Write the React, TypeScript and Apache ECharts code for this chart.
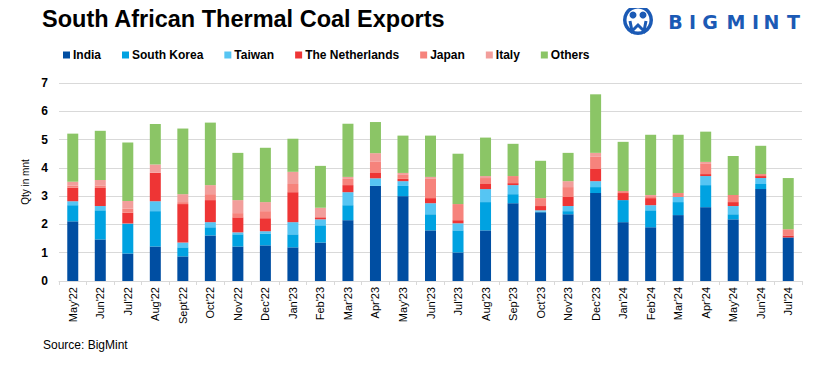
import React, { useEffect, useRef } from "react";
import * as echarts from "echarts";

const categories = [
  "May'22", "Jun'22", "Jul'22", "Aug'22", "Sept'22", "Oct'22", "Nov'22", "Dec'22",
  "Jan'23", "Feb'23", "Mar'23", "Apr'23", "May'23", "Jun'23", "Jul'23", "Aug'23",
  "Sep'23", "Oct'23", "Nov'23", "Dec'23", "Jan'24", "Feb'24", "Mar'24", "Apr'24",
  "May'24", "Jun'24", "Jul'24",
];

const india = [2.11, 1.47, 0.97, 1.22, 0.87, 1.61, 1.22, 1.26, 1.19, 1.36, 2.15, 3.36, 3.0, 1.79, 1.01, 1.79, 2.75, 2.43, 2.36, 3.11, 2.08, 1.9, 2.33, 2.61, 2.18, 3.25, 1.54];
const southKorea = [0.57, 1.03, 1.05, 1.25, 0.32, 0.29, 0.43, 0.42, 0.46, 0.61, 0.53, 0.02, 0.36, 0.57, 0.78, 1.0, 0.32, 0.02, 0.11, 0.21, 0.78, 0.6, 0.46, 0.78, 0.18, 0.18, 0];
const taiwan = [0.14, 0.15, 0.01, 0.35, 0.17, 0.18, 0.07, 0.08, 0.43, 0.21, 0.46, 0.25, 0.17, 0.39, 0.25, 0.46, 0.32, 0.05, 0.18, 0.21, 0, 0.18, 0.18, 0.32, 0.29, 0.21, 0];
const netherlands = [0.48, 0.64, 0.38, 1.0, 1.36, 0.78, 0.53, 0.46, 1.06, 0.07, 0.25, 0.21, 0.08, 0.18, 0.11, 0.18, 0.07, 0.15, 0.32, 0.43, 0.25, 0.25, 0, 0.07, 0.14, 0.07, 0.07];
const japan = [0.07, 0.09, 0.14, 0.02, 0.07, 0.21, 0.15, 0.25, 0.29, 0.04, 0.22, 0.39, 0.14, 0.68, 0.57, 0.21, 0.25, 0.28, 0.35, 0.43, 0.07, 0.07, 0.14, 0.36, 0.25, 0.07, 0.22];
const italy = [0.14, 0.19, 0.28, 0.28, 0.28, 0.32, 0.46, 0.32, 0.43, 0.3, 0.07, 0.29, 0.07, 0.07, 0, 0.07, 0, 0, 0.21, 0.14, 0, 0.04, 0, 0.07, 0, 0, 0];
const others = [1.7, 1.74, 2.07, 1.43, 2.32, 2.21, 1.67, 1.92, 1.17, 1.48, 1.88, 1.1, 1.32, 1.46, 1.78, 1.36, 1.14, 1.32, 1.0, 2.07, 1.74, 2.13, 2.06, 1.07, 1.38, 1.0, 1.81];

const yTicks = { min: 0, max: 7, interval: 1 };

const seriesDefs = [
  { name: "India", data: india, color: "#004EA2" },
  { name: "South Korea", data: southKorea, color: "#00A2E1" },
  { name: "Taiwan", data: taiwan, color: "#56C5F3" },
  { name: "The Netherlands", data: netherlands, color: "#EE3535" },
  { name: "Japan", data: japan, color: "#F6837C" },
  { name: "Italy", data: italy, color: "#F29E9B" },
  { name: "Others", data: others, color: "#8BC566" },
];

const brandLetters = ["B", "I", "G", "M", "I", "N", "T"];
const brandX = [675.5, 692.5, 710, 736, 755.5, 771.5, 793.5];

export default function App() {
  const ref = useRef<HTMLDivElement>(null);
  useEffect(() => {
    if (!ref.current) return;
    const chart = echarts.init(ref.current, undefined, { renderer: "svg" });
    const font = "'Liberation Sans', Arial, sans-serif";
    const blue = "#1B5AB5";
    chart.setOption({
      animation: false,
      textStyle: { fontFamily: font },
      legend: {
        left: 58,
        top: 44,
        itemWidth: 7,
        itemHeight: 7,
        itemGap: 21,
        icon: "rect",
        textStyle: { fontSize: 12, fontWeight: "bold", color: "#000", fontFamily: font, padding: [0, 0, 0, -2] },
        data: seriesDefs.map((s) => s.name),
      },
      grid: { left: 59, right: 11, top: 83, bottom: 85 },
      xAxis: {
        type: "category",
        data: categories,
        axisLine: { lineStyle: { color: "#d9d9d9" } },
        axisTick: { show: true, length: 4, lineStyle: { color: "#d9d9d9" } },
        axisLabel: { rotate: 90, fontSize: 11, color: "#000", margin: 6, interval: 0 },
      },
      yAxis: {
        type: "value",
        min: yTicks.min,
        max: yTicks.max,
        interval: yTicks.interval,
        name: "Qty in mnt",
        nameLocation: "middle",
        nameRotate: 90,
        nameGap: 25,
        nameTextStyle: { fontSize: 10, color: "#000" },
        axisLine: { show: false },
        axisTick: { show: false },
        splitLine: { lineStyle: { color: "#d9d9d9" } },
        axisLabel: { fontSize: 12, fontWeight: "bold", color: "#000", margin: 11 },
      },
      series: seriesDefs.map((s) => ({
        name: s.name,
        type: "bar",
        stack: "total",
        barWidth: 11,
        data: s.data,
        itemStyle: { color: s.color },
      })),
      graphic: [
        {
          type: "text",
          left: 42,
          top: 7,
          style: { text: "South African Thermal Coal Exports", fontSize: 23.5, fontWeight: "bold", fill: "#000", fontFamily: font },
        },
        {
          type: "text",
          left: 43,
          top: 339,
          style: { text: "Source: BigMint", fontSize: 12, fill: "#000", fontFamily: font },
        },
        { type: "ring", shape: { cx: 638, cy: 20, r: 15, r0: 11.5 }, style: { fill: blue } },
        { type: "circle", shape: { cx: 633, cy: 15, r: 3.5 }, style: { fill: blue } },
        { type: "circle", shape: { cx: 643, cy: 15, r: 3.5 }, style: { fill: blue } },
        {
          type: "polyline",
          shape: { points: [[630, 21], [632, 31], [638, 25], [644, 31], [646, 21]] },
          style: { stroke: blue, lineWidth: 3, fill: null },
        },
        ...brandLetters.map((l, i) => ({
          type: "text",
          x: brandX[i],
          y: 21.5,
          style: { text: l, fontSize: 19, fontWeight: "bold", fill: blue, align: "center", verticalAlign: "middle", fontFamily: "'DejaVu Sans', sans-serif" },
        })),
      ],
    });
    return () => chart.dispose();
  }, []);
  return <div ref={ref} style={{ width: 813, height: 366, margin: -8 }} />;
}
